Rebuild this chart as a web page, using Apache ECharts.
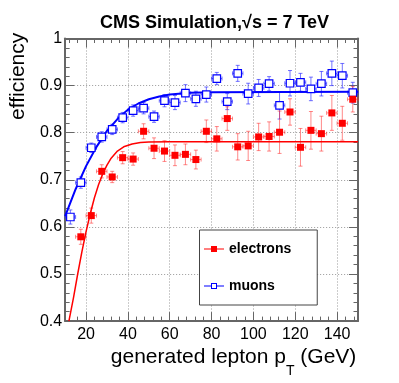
<!DOCTYPE html>
<html>
<head>
<meta charset="utf-8">
<title>lepton efficiency</title>
<script src="https://cdn.jsdelivr.net/npm/echarts@6/dist/echarts.min.js"></script>
<style>
  html, body { margin: 0; padding: 0; background: #fff; }
  #chart { width: 399px; height: 383px; }
</style>
</head>
<body>
<div id="chart"></div>
<script>
// bin centres (GeV), 5 GeV wide bins
var ptBins = [12.5, 17.5, 22.5, 27.5, 32.5, 37.5, 42.5, 47.5, 52.5, 57.5,
  62.5, 67.5, 72.5, 77.5, 82.5, 87.5, 92.5, 97.5, 102.5, 107.5,
  112.5, 117.5, 122.5, 127.5, 132.5, 137.5, 142.5, 147.5];
var halfBin = 2.5;

var muonEff = [0.621, 0.694, 0.768, 0.791, 0.807, 0.832, 0.847, 0.852, 0.834, 0.868,
  0.864, 0.884, 0.872, 0.881, 0.915, 0.866, 0.926, 0.883, 0.895, 0.904,
  0.858, 0.905, 0.907, 0.893, 0.904, 0.926, 0.921, 0.885];
var muonErr = [0.015, 0.012, 0.010, 0.011, 0.011, 0.011, 0.012, 0.012, 0.012, 0.013,
  0.015, 0.018, 0.016, 0.016, 0.013, 0.017, 0.017, 0.022, 0.018, 0.015,
  0.029, 0.027, 0.019, 0.025, 0.026, 0.026, 0.026, 0.022];

// no electron point in the first bin (below 0.4)
var elecEff = [null, 0.579, 0.624, 0.718, 0.706, 0.747, 0.744, 0.803, 0.767, 0.761,
  0.752, 0.754, 0.743, 0.803, 0.787, 0.830, 0.770, 0.772, 0.791, 0.792,
  0.801, 0.844, 0.769, 0.805, 0.798, 0.842, 0.820, 0.871];
var elecErr = [null, 0.016, 0.016, 0.014, 0.012, 0.013, 0.013, 0.016, 0.022, 0.022,
  0.022, 0.022, 0.020, 0.024, 0.026, 0.025, 0.028, 0.031, 0.029, 0.031,
  0.045, 0.028, 0.040, 0.040, 0.037, 0.037, 0.036, 0.027];

// turn-on fit curves [pT, efficiency]
var muonFit = [[10, 0.623], [15, 0.680], [20, 0.729], [25, 0.770], [30, 0.804],
  [35, 0.829], [40, 0.849], [45, 0.862], [50, 0.871], [55, 0.877], [60, 0.881],
  [70, 0.885], [80, 0.886], [150, 0.887]];
var elecFit = [[11.8, 0.400], [14, 0.450], [16, 0.500], [18, 0.547], [20, 0.590],
  [22, 0.628], [24, 0.662], [26, 0.690], [28, 0.713], [30, 0.731], [32, 0.746],
  [35, 0.761], [38, 0.770], [42, 0.776], [46, 0.779], [50, 0.780], [60, 0.781],
  [150, 0.781]];

var font = "'Liberation Sans', Arial, sans-serif";
var frameColor = '#666';
var gridStyle = { color: '#999', type: [1, 2], width: 1 };

function points(eff) {
  var out = [];
  ptBins.forEach(function (x, i) {
    if (eff[i] != null) out.push([x, eff[i]]);
  });
  return out;
}
function bars(eff, err) {
  var out = [];
  ptBins.forEach(function (x, i) {
    if (eff[i] != null) out.push([x, eff[i], err[i]]);
  });
  return out;
}

// error bars with little end caps, like ROOT draws them
function errorBars(color) {
  return function (params, api) {
    var x = api.value(0), y = api.value(1), e = api.value(2);
    var c = api.coord([x, y]);
    var hi = api.coord([x, y + e])[1];
    var lo = api.coord([x, y - e])[1];
    var l = api.coord([x - halfBin, y])[0];
    var r = api.coord([x + halfBin, y])[0];
    var cap = 2;
    var st = { stroke: color, lineWidth: 1 };
    return {
      type: 'group',
      children: [
        { type: 'line', shape: { x1: c[0], y1: hi, x2: c[0], y2: lo }, style: st },
        { type: 'line', shape: { x1: c[0] - cap, y1: hi, x2: c[0] + cap, y2: hi }, style: st },
        { type: 'line', shape: { x1: c[0] - cap, y1: lo, x2: c[0] + cap, y2: lo }, style: st },
        { type: 'line', shape: { x1: l, y1: c[1], x2: r, y2: c[1] }, style: st },
        { type: 'line', shape: { x1: l, y1: c[1] - cap, x2: l, y2: c[1] + cap }, style: st },
        { type: 'line', shape: { x1: r, y1: c[1] - cap, x2: r, y2: c[1] + cap }, style: st }
      ]
    };
  };
}

function xAxisOpt(pos) {
  var bottom = pos === 'bottom';
  return {
    type: 'value',
    position: pos,
    min: 10,
    max: 150,
    splitNumber: 7,
    axisLine: { show: true, onZero: false, lineStyle: { color: frameColor, width: 2 } },
    axisTick: { inside: true, length: 9, lineStyle: { color: frameColor } },
    minorTick: { show: true, splitNumber: 5, length: 4.5, lineStyle: { color: frameColor } },
    axisLabel: {
      show: bottom, margin: 5, fontSize: 16, color: '#000', fontFamily: font,
      showMinLabel: false, showMaxLabel: false
    },
    splitLine: { show: bottom, lineStyle: gridStyle },
    name: bottom ? '{a|generated lepton p}{t|T}{a| (GeV)}' : '',
    nameLocation: 'middle',
    nameGap: 14,
    nameTextStyle: {
      padding: [0, 0, 0, 44],
      rich: {
        a: { fontSize: 21, lineHeight: 24, verticalAlign: 'top', color: '#000', fontFamily: font },
        t: { fontSize: 14, lineHeight: 14, padding: [17, 0, 0, 0], verticalAlign: 'top', color: '#000', fontFamily: font }
      }
    }
  };
}

function yAxisOpt(pos) {
  var left = pos === 'left';
  return {
    type: 'value',
    position: pos,
    min: 0.4,
    max: 1,
    interval: 0.1,
    axisLine: { show: true, onZero: false, lineStyle: { color: frameColor, width: 2 } },
    axisTick: { inside: true, length: 9, lineStyle: { color: frameColor } },
    minorTick: { show: true, splitNumber: 5, length: 4.5, lineStyle: { color: frameColor } },
    axisLabel: { show: left, margin: 3, fontSize: 16, color: '#000', fontFamily: font },
    splitLine: { show: left, lineStyle: gridStyle },
    name: left ? 'efficiency' : '',
    nameLocation: 'middle',
    nameRotate: 90,
    nameGap: 36,
    nameTextStyle: { fontSize: 21, color: '#000', fontFamily: font, padding: [0, 0, 0, 207] }
  };
}

var elecIcon = 'path://M0,2.5H7V0H13V2.5H20V3.5H13V6H7V3.5H0Z';
var muonIcon = 'path://M0,2.5H7V3.5H0Z M13,2.5H20V3.5H13Z M7,0H13V6H7Z M8,1V5H12V1Z';

var chart = echarts.init(document.getElementById('chart'));
chart.setOption({
  animation: false,
  backgroundColor: '#fff',
  title: {
    text: 'CMS Simulation,\u221As = 7 TeV',
    left: 95,
    top: 9,
    textStyle: { fontSize: 18, fontWeight: 'bold', color: '#000', fontFamily: font }
  },
  grid: { left: 64.5, right: 41, top: 38.5, bottom: 50.5, containLabel: false },
  legend: {
    orient: 'vertical',
    left: 199.5,
    top: 230,
    padding: [11, 26, 11, 4.5],
    itemGap: 21,
    itemWidth: 20,
    itemHeight: 6,
    selectedMode: false,
    borderColor: '#444',
    borderWidth: 1,
    backgroundColor: '#fff',
    textStyle: { fontSize: 14, fontWeight: 'bold', color: '#000', fontFamily: font, lineHeight: 16 },
    data: [
      { name: 'electrons', icon: elecIcon, itemStyle: { color: '#ff0000', borderWidth: 0 } },
      { name: 'muons', icon: muonIcon, itemStyle: { color: '#0000ff', borderWidth: 0 } }
    ]
  },
  xAxis: [xAxisOpt('bottom'), xAxisOpt('top')],
  yAxis: [yAxisOpt('left'), yAxisOpt('right')],
  series: [
    {
      type: 'custom', name: 'muon errors', silent: true, z: 2,
      renderItem: errorBars('rgba(40,40,255,0.65)'),
      encode: { x: 0, y: 1 },
      data: bars(muonEff, muonErr)
    },
    {
      type: 'custom', name: 'electron errors', silent: true, z: 2,
      renderItem: errorBars('rgba(255,40,40,0.55)'),
      encode: { x: 0, y: 1 },
      data: bars(elecEff, elecErr)
    },
    {
      type: 'line', name: 'muon fit', data: muonFit, showSymbol: false, z: 3,
      lineStyle: { color: '#0000ff', width: 2 }
    },
    {
      type: 'line', name: 'electron fit', data: elecFit, showSymbol: false, z: 3,
      lineStyle: { color: '#ff0000', width: 1.5 }
    },
    {
      type: 'scatter', name: 'muons', data: points(muonEff), z: 4,
      symbol: 'rect', symbolSize: 7.5,
      itemStyle: { color: '#fff', borderColor: '#0000ff', borderWidth: 1.2, opacity: 1 }
    },
    {
      type: 'scatter', name: 'electrons', data: points(elecEff), z: 4,
      symbol: 'rect', symbolSize: 7,
      itemStyle: { color: '#ff0000', opacity: 1 }
    }
  ]
});
</script>
</body>
</html>
